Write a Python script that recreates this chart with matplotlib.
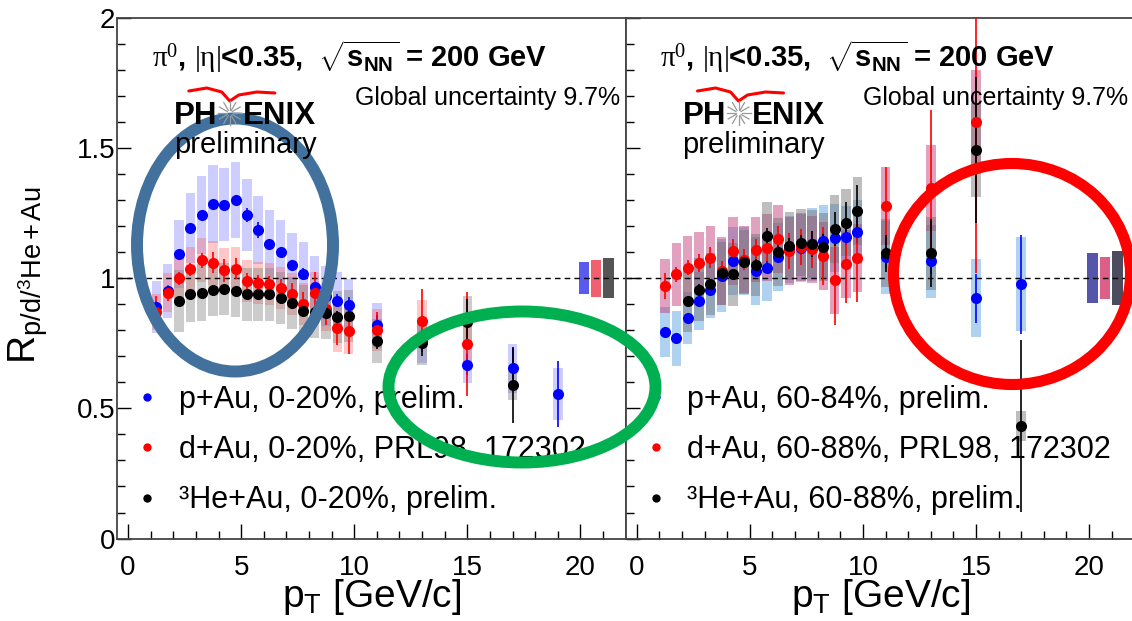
import math

import matplotlib
matplotlib.use("Agg")
import matplotlib.pyplot as plt
import matplotlib.patches as patches
from matplotlib.lines import Line2D
from matplotlib.ticker import MultipleLocator

plt.rcParams["font.family"] = ["Liberation Sans", "DejaVu Sans"]
plt.rcParams["mathtext.fontset"] = "custom"
plt.rcParams["mathtext.rm"] = "Liberation Serif"
plt.rcParams["mathtext.it"] = "Liberation Serif:italic"
plt.rcParams["mathtext.bf"] = "Liberation Sans:bold"
plt.rcParams["mathtext.sf"] = "Liberation Sans"

W, H = 1132, 621

# ---- data: R vs pT (GeV/c) ----
pt_lo = [1.25, 1.75, 2.25, 2.75, 3.25, 3.75, 4.25, 4.75, 5.25,
         5.75, 6.25, 6.75, 7.25, 7.75, 8.25, 8.75, 9.25, 9.75]

# left panel, 0-20%
pau_c_pt = pt_lo + [11, 13, 15, 17, 19]
pau_c_y = [0.89, 0.95, 1.093, 1.193, 1.242, 1.283, 1.281, 1.299, 1.242, 1.185, 1.13,
           1.101, 1.051, 1.017, 0.965, 0.93, 0.913, 0.898, 0.818, 0.76, 0.668, 0.653, 0.555]
pau_c_stat = [0.02, 0.02, 0.015, 0.015, 0.015, 0.015, 0.015, 0.015, 0.025, 0.03, 0.02,
              0.02, 0.02, 0.02, 0.02, 0.025, 0.025, 0.03, 0.04, 0.04, 0.04, 0.08, 0.128]
pau_c_sys = [0.10, 0.105, 0.13, 0.135, 0.15, 0.15, 0.14, 0.145, 0.14, 0.13, 0.13,
             0.12, 0.12, 0.12, 0.12, 0.115, 0.11, 0.10, 0.086, 0.085, 0.07, 0.095, 0.10]

dau_c_pt = pt_lo + [11, 13, 15]
dau_c_y = [0.87, 0.943, 0.999, 1.033, 1.068, 1.059, 1.030, 1.036, 0.988, 0.982, 0.976,
           0.962, 0.94, 0.90, 0.943, 0.88, 0.808, 0.798, 0.80, 0.837, 0.747]
dau_c_stat = [0.06, 0.03, 0.025, 0.025, 0.03, 0.04, 0.045, 0.04, 0.03, 0.03, 0.03,
              0.035, 0.04, 0.045, 0.08, 0.06, 0.065, 0.09, 0.07, 0.12, 0.2]
dau_c_sys = [0.07, 0.075, 0.08, 0.085, 0.085, 0.085, 0.085, 0.085, 0.08, 0.08, 0.08,
             0.08, 0.08, 0.08, 0.08, 0.085, 0.09, 0.09, 0.08, 0.08, 0.08]

heau_c_pt = pt_lo[2:] + [11, 13, 15, 17]
heau_c_y = [0.912, 0.940, 0.944, 0.953, 0.959, 0.950, 0.937, 0.937, 0.937, 0.925,
            0.905, 0.873, 0.87, 0.865, 0.85, 0.855, 0.758, 0.751, 0.831, 0.588]
heau_c_stat = [0.01, 0.01, 0.01, 0.01, 0.01, 0.01, 0.01, 0.01, 0.01, 0.012,
               0.015, 0.015, 0.02, 0.02, 0.025, 0.025, 0.03, 0.05, 0.09, 0.146]
heau_c_sys = [0.12, 0.11, 0.11, 0.10, 0.10, 0.10, 0.10, 0.10, 0.10, 0.10,
              0.10, 0.10, 0.10, 0.10, 0.10, 0.10, 0.085, 0.085, 0.10, 0.055]

# right panel, peripheral
pau_p_pt = pt_lo + [11, 13, 15, 17]
pau_p_y = [0.792, 0.768, 0.845, 0.912, 0.956, 1.008, 1.065, 1.065, 1.027, 1.04, 1.081,
           1.11, 1.115, 1.13, 1.142, 1.153, 1.158, 1.178, 1.08, 1.065, 0.922, 0.976]
pau_p_stat = [0.015, 0.015, 0.015, 0.015, 0.015, 0.02, 0.02, 0.02, 0.02, 0.025, 0.025,
              0.025, 0.025, 0.03, 0.03, 0.03, 0.03, 0.045, 0.04, 0.05, 0.095, 0.19]
pau_p_sys = [0.095, 0.105, 0.10, 0.11, 0.11, 0.14, 0.13, 0.13, 0.13, 0.13, 0.13,
             0.13, 0.13, 0.14, 0.14, 0.13, 0.12, 0.12, 0.14, 0.14, 0.15, 0.18]

dau_p_pt = pt_lo + [11, 13, 15]
dau_p_y = [0.969, 1.014, 1.04, 1.057, 1.078, 1.027, 1.104, 1.07, 1.108, 1.117, 1.149,
           1.104, 1.119, 1.11, 1.085, 0.991, 1.055, 1.078, 1.277, 1.345, 1.60]
dau_p_stat = [0.05, 0.03, 0.03, 0.035, 0.04, 0.04, 0.045, 0.04, 0.04, 0.05, 0.05,
              0.07, 0.07, 0.07, 0.11, 0.17, 0.15, 0.17, 0.15, 0.3, 0.58]
dau_p_sys = [0.105, 0.12, 0.12, 0.12, 0.12, 0.13, 0.13, 0.13, 0.125, 0.13, 0.13,
             0.13, 0.13, 0.13, 0.13, 0.13, 0.13, 0.13, 0.15, 0.165, 0.2]

heau_p_pt = pt_lo[2:] + [11, 13, 15, 17]
heau_p_y = [0.912, 0.956, 0.978, 1.018, 1.014, 1.063, 1.05, 1.162, 1.101, 1.123,
            1.136, 1.132, 1.12, 1.187, 1.213, 1.258, 1.095, 1.095, 1.49, 0.431]
heau_p_stat = [0.02, 0.02, 0.02, 0.02, 0.02, 0.02, 0.025, 0.03, 0.03, 0.03,
               0.03, 0.05, 0.05, 0.065, 0.08, 0.1, 0.07, 0.13, 0.28, 0.33]
heau_p_sys = [0.12, 0.12, 0.12, 0.12, 0.12, 0.12, 0.12, 0.13, 0.13, 0.13,
              0.13, 0.13, 0.13, 0.13, 0.13, 0.13, 0.13, 0.14, 0.18, 0.057]

# global normalisation uncertainty boxes (p, d, He)
global_x = [20.15, 20.7, 21.25]
global_c = [0.063, 0.071, 0.078]
global_p = [0.096, 0.082, 0.103]

labels_c = ["p+Au, 0-20%, prelim.", "d+Au, 0-20%, PRL98, 172302", "³He+Au, 0-20%, prelim."]
labels_p = ["p+Au, 60-84%, prelim.", "d+Au, 60-88%, PRL98, 172302", "³He+Au, 60-88%, prelim."]

panels = [
    dict(
        series=[(pau_c_pt, pau_c_y, pau_c_stat, pau_c_sys),
                (dau_c_pt, dau_c_y, dau_c_stat, dau_c_sys),
                (heau_c_pt, heau_c_y, heau_c_stat, heau_c_sys)],
        box_colors=[("#7070ff", 0.35), ("#ff6060", 0.35), ("#808080", 0.4)],
        glob=global_c, glob_colors=["#5a5aee", "#f25f6e", "#555555"],
        labels=labels_c, x0=116.8, ylabels=True,
    ),
    dict(
        series=[(pau_p_pt, pau_p_y, pau_p_stat, pau_p_sys),
                (dau_p_pt, dau_p_y, dau_p_stat, dau_p_sys),
                (heau_p_pt, heau_p_y, heau_p_stat, heau_p_sys)],
        box_colors=[("#4f9de0", 0.45), ("#c03070", 0.45), ("#707070", 0.45)],
        glob=global_p, glob_colors=["#5555aa", "#dd5f86", "#4c4c5e"],
        labels=labels_p, x0=625.5, ylabels=False,
    ),
]
marker_colors = ["#0000ff", "#ff0000", "#000000"]

fig = plt.figure(figsize=(W / 100, H / 100), dpi=100)

ax_bottom, ax_top = 538.6, 17.5
ax_w = 508.8

# pixel-space overlay for logo, captions and the hand-drawn ellipses
overlay = fig.add_axes([0, 0, 1, 1], zorder=10)
overlay.set_xlim(0, W)
overlay.set_ylim(H, 0)
overlay.axis("off")

for p in panels:
    x0 = p["x0"]
    ax = fig.add_axes([x0 / W, (H - ax_bottom) / H, ax_w / W, (ax_bottom - ax_top) / H])
    ax.set_xlim(-0.5, 22)
    ax.set_ylim(0, 2)

    # systematic boxes first
    for (x, y, st, sy), (bc, ba) in zip(p["series"], p["box_colors"]):
        ax.bar(x, [2 * s for s in sy], bottom=[v - s for v, s in zip(y, sy)],
               width=0.42, color=bc, alpha=ba, linewidth=0, zorder=2)

    ax.bar(global_x, [2 * g for g in p["glob"]], bottom=[1 - g for g in p["glob"]],
           width=0.46, color=p["glob_colors"], linewidth=0, zorder=3)

    ax.axhline(1, color="black", lw=1.0, ls=(0, (4, 3)), zorder=3)

    for (x, y, st, sy), mc in zip(p["series"], marker_colors):
        ax.errorbar(x, y, yerr=st, fmt="o", color=mc, ms=8, mew=0,
                    elinewidth=1.2, capsize=2.5, capthick=1.2, zorder=5)

    ax.xaxis.set_major_locator(MultipleLocator(5))
    ax.xaxis.set_minor_locator(MultipleLocator(1))
    ax.yaxis.set_major_locator(MultipleLocator(0.5))
    ax.yaxis.set_minor_locator(MultipleLocator(0.1))
    ax.tick_params(axis="x", which="major", direction="in", length=11, width=1,
                   labelsize=20, pad=12, top=False)
    ax.tick_params(axis="x", which="minor", direction="in", length=6, width=1, top=False)
    ax.tick_params(axis="y", which="major", direction="in", length=10, width=1,
                   labelsize=20, pad=1, right=False)
    ax.tick_params(axis="y", which="minor", direction="in", length=6, width=1, right=False)
    ax.set_yticks([0, 0.5, 1, 1.5, 2])
    ax.set_yticklabels(["0", "0.5", "1", "1.5", "2"])
    if not p["ylabels"]:
        ax.tick_params(axis="y", labelleft=False)
    for sp in ax.spines.values():
        sp.set_color("#444444")
        sp.set_linewidth(1.3)

    handles = [Line2D([], [], ls="none", marker="o", color=c, ms=6, mew=0)
               for c in marker_colors]
    ax.legend(handles, p["labels"], loc="upper left",
              bbox_to_anchor=(22.6 / ax_w, (ax_bottom - 385) / (ax_bottom - ax_top)),
              frameon=False, fontsize=22, handlelength=0.5, handletextpad=0.78,
              labelspacing=0.66, borderpad=0, borderaxespad=0)

    overlay.text(x0 + 35, 67,
                 r"$\mathrm{\pi^{0}}$, $\mathrm{|\eta|}$<0.35,  $\sqrt{\mathbf{s_{NN}}}$ = 200 GeV",
                 fontsize=21, fontweight="bold", ha="left", va="baseline")
    overlay.text(x0 + 503, 105, "Global uncertainty 9.7%", fontsize=18,
                 ha="right", va="baseline")

    # PHENIX logo
    overlay.text(x0 + 101, 124, "PH", fontsize=22.5, fontweight="bold", ha="right", va="baseline")
    overlay.text(x0 + 126, 124, "ENIX", fontsize=22.5, fontweight="bold", ha="left", va="baseline")
    overlay.text(x0 + 57, 153, "preliminary", fontsize=21, ha="left", va="baseline")
    swoosh_x = [72, 90, 105, 113, 122, 140, 158]
    swoosh_y = [91, 88, 92, 101, 95, 92, 93]
    overlay.plot([x0 + v for v in swoosh_x], swoosh_y, color="#ff0000", lw=2.2,
                 solid_capstyle="round")
    cx, cy = x0 + 113, 113
    for k in range(12):
        a = k * math.pi / 6
        overlay.plot([cx + 3 * math.cos(a), cx + 12 * math.cos(a)],
                     [cy + 3 * math.sin(a), cy + 12 * math.sin(a)],
                     color="#999999", lw=0.9)

    overlay.text(x0 + 255, 607, r"$\mathsf{p_{T}}$ [GeV/c]", fontsize=28,
                 ha="center", va="baseline")

fig.text(28 / W, 1 - 275 / H, r"$\mathsf{R_{p/d/^{3}He+Au}}$", fontsize=28,
         rotation=90, ha="center", va="center")

# highlight ellipses drawn over the figure
overlay.add_patch(patches.Ellipse((235, 245), 196, 253, fill=False,
                                  ec="#41719c", lw=8.6))
overlay.add_patch(patches.Ellipse((522, 387), 267, 151, fill=False,
                                  ec="#00b050", lw=8.6))
overlay.add_patch(patches.Ellipse((1012, 274), 237, 221, fill=False,
                                  ec="#ff0000", lw=8))

fig.savefig("out.png", dpi=100)
